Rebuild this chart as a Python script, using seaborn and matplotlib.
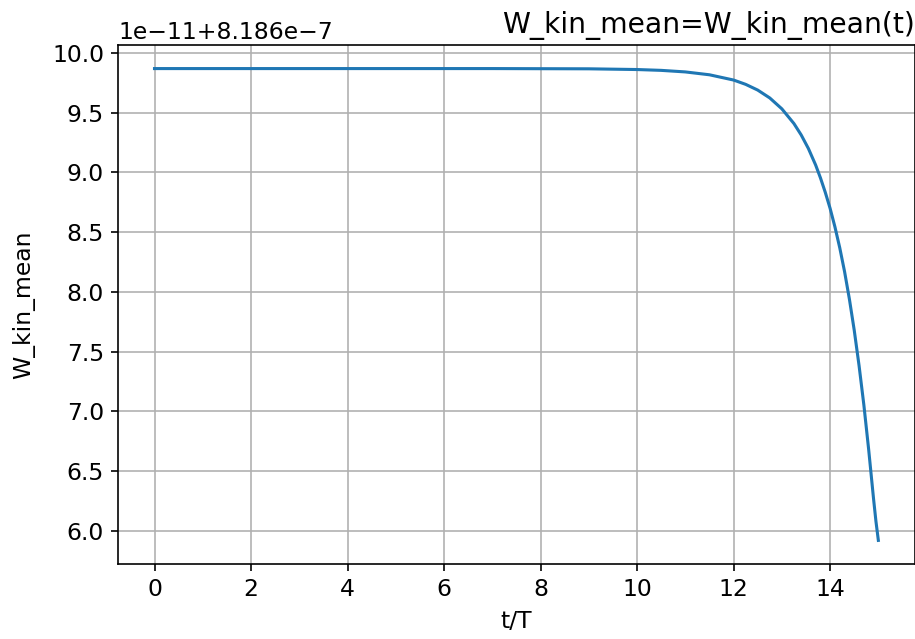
import matplotlib
matplotlib.use("Agg")
import matplotlib.pyplot as plt
import pandas as pd
import seaborn as sns

# Mean kinetic energy over time (t/T), stored as deviation in units of 1e-11 above 8.186e-7
t_over_T = [0, 1, 2, 3, 4, 5, 6, 7, 8, 9, 10, 10.5, 11, 11.5, 12,
            12.25, 12.5, 12.75, 13.0, 13.25, 13.4, 13.55, 13.7, 13.8, 13.9,
            14.0, 14.1, 14.2, 14.3, 14.4, 14.5, 14.6, 14.7, 14.8, 14.9,
            14.95, 15.0]
w_dev = [9.870, 9.870, 9.870, 9.870, 9.870, 9.870, 9.870, 9.870, 9.869, 9.868,
         9.862, 9.855, 9.842, 9.818, 9.774,
         9.738, 9.690, 9.624, 9.533, 9.410, 9.315, 9.201, 9.063, 8.955, 8.834,
         8.700, 8.545, 8.370, 8.170, 7.940, 7.680, 7.384, 7.053, 6.678, 6.270,
         6.080, 5.920]
base = 8.186e-7
unit = 1e-11

df = pd.DataFrame({
    "t/T": t_over_T,
    "W_kin_mean": [base + v * unit for v in w_dev],
})

plt.rcParams["font.size"] = 11.5

dpi = 147.6
fig = plt.figure(figsize=(915 / dpi, 639 / dpi), dpi=dpi)
ax = fig.add_axes([0.1293, 0.1174, 0.8702, 0.8122])

sns.lineplot(data=df, x="t/T", y="W_kin_mean", ax=ax, color="#1f77b4",
             linewidth=1.5, sort=False)

ax.grid(True, color="#b0b0b0", linewidth=0.8)
ax.set_xlabel("t/T")
ax.set_ylabel("W_kin_mean", labelpad=8)
ax.set_title("W_kin_mean=W_kin_mean(t)", loc="right")
ax.set_xticks([0, 2, 4, 6, 8, 10, 12, 14])

fig.savefig("out.png", dpi=dpi)
